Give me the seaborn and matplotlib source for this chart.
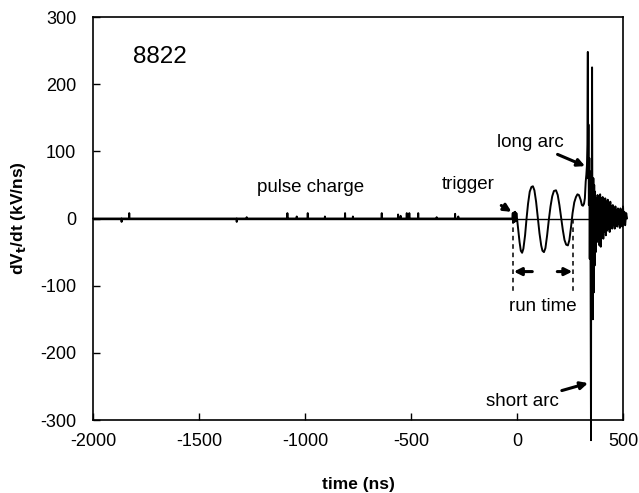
import numpy as np
import pandas as pd
import seaborn as sns
import matplotlib.pyplot as plt

# pulse charge spikes before the trigger (time ns, height kV/ns)
spike_t = [-1865, -1829, -1322, -1275, -1083, -1039, -987, -906, -811, -774,
           -638, -561, -549, -520, -508, -466, -379, -292, -277]
spike_h = [-5, 8, -5, 2, 8, 3, 8, 3, 8, 3,
           8, 6, 4, 8, 8, 8, 2, 7, 3]

# trigger blob
trig_t = [-22, -20, -18, -15, -12, -9, -6, -3, 0]
trig_v = [0, 8, -6, 9, -5, 10, -4, 8, 0]

# run time oscillation
osc_t = [5, 12, 18, 24, 30, 38, 45, 52, 60, 68, 75, 82, 90, 98, 106, 114,
         120, 127, 134, 142, 150, 158, 166, 174, 184, 192, 200, 208, 216,
         224, 232, 240, 247, 255, 262, 270, 278, 285, 292, 300, 306, 311,
         316, 320]
osc_v = [-15, -35, -48, -51, -45, -25, 0, 22, 40, 47, 48, 42, 25, 2, -22, -40,
         -48, -50, -44, -25, -2, 18, 33, 41, 42, 35, 20, 2, -17,
         -32, -39, -40, -32, -12, 8, 24, 32, 36, 35, 28, 20, 19,
         22, 30]

# arcs and ringing
arc_t = [324, 327, 330, 332, 334, 335, 337, 339, 341, 343, 345, 347, 349, 350,
         352, 354, 356, 358, 360, 362, 364, 366, 368, 371, 374, 377, 380, 383,
         386, 389, 392, 395, 398, 401, 404, 407, 410, 413, 416, 419, 422, 425,
         428, 431, 434, 437, 440, 443, 446, 449, 452, 455, 458, 461, 464, 467,
         470, 473, 476, 479, 482, 485, 488, 491, 494, 497, 500, 503, 506, 510,
         515, 519]
arc_v = [55, 65, 80, 110, 248, 60, 140, 20, 90, -60, 70, -80, -330, 50,
         -100, 225, -90, -150, 60, -110, 50, -70, 40, -50, 30, -35, 35, -30,
         30, -40, 36, -42, 30, -25, 32, -30, 28, -20, 30, -25, 25, -18,
         28, -15, 20, -20, 25, -12, 18, -15, 20, -10, 15, -15, 18, -10,
         12, -12, 15, -8, 12, -14, 15, -10, 12, -12, 18, -8, 10, -10,
         8, 0]

# build the full trace: flat baseline with narrow spikes, then the wave
t_list, v_list = [-2000], [0]
for t, h in zip(spike_t, spike_h):
    t_list += [t - 1, t, t + 1]
    v_list += [0, h, 0]
t_list += trig_t + osc_t + arc_t
v_list += trig_v + osc_v + arc_v
df = pd.DataFrame({'time': t_list, 'dvdt': v_list})

sns.set_theme(style='ticks')
plt.rcParams['font.family'] = ['Liberation Sans', 'DejaVu Sans']
plt.rcParams['axes.unicode_minus'] = False
plt.rcParams['text.color'] = 'black'
plt.rcParams['axes.labelcolor'] = 'black'

fig = plt.figure(figsize=(6.39, 4.93), dpi=100)
ax = fig.add_axes([0.1455, 0.148, 0.8295, 0.8175])

ax.axhline(0, color='black', lw=1.0, zorder=1)
sns.lineplot(data=df, x='time', y='dvdt', estimator=None, sort=False,
             color='black', lw=1.4, ax=ax, clip_on=False)

ax.set_xlim(-2000, 500)
ax.set_ylim(-300, 300)
ax.set_xticks([-2000, -1500, -1000, -500, 0, 500])
ax.set_yticks([-300, -200, -100, 0, 100, 200, 300])
ax.tick_params(direction='in', length=5, width=1, labelsize=13, colors='black')
ax.tick_params(axis='y', pad=12)
ax.tick_params(axis='x', pad=9)
for s in ax.spines.values():
    s.set_visible(True)
    s.set_color('black')
    s.set_linewidth(1.2)

ax.set_xlabel('time (ns)', fontsize=12.5, fontweight='bold', labelpad=20)
ax.set_ylabel('dV$_\\mathbf{t}$/dt (kV/ns)', fontsize=12.5, fontweight='bold', labelpad=9)

# run time markers
for xd in [-18, 264]:
    ax.plot([xd, xd], [0, -110], color='black', lw=1.1, ls=(0, (3, 2.5)))
arr = dict(arrowstyle='-|>', color='black', lw=2.2, mutation_scale=11,
           shrinkA=0, shrinkB=0)
ax.annotate('', xy=(-15, -79), xytext=(72, -79), arrowprops=arr)
ax.annotate('', xy=(261, -79), xytext=(190, -79), arrowprops=arr)

ax.text(-1684, 240, '8822', fontsize=17.5, ha='center', va='center')
ax.text(-976, 46, 'pulse charge', fontsize=13.5, ha='center', va='center')
ax.text(122, -131, 'run time', fontsize=13.5, ha='center', va='center')
ax.annotate('trigger', xy=(-26, 10), xytext=(-231, 50), fontsize=13.5,
            ha='center', va='center', arrowprops=dict(arr, shrinkA=12))
ax.annotate('long arc', xy=(321, 78), xytext=(61, 113), fontsize=13.5,
            ha='center', va='center', arrowprops=dict(arr, shrinkA=44))
ax.annotate('short arc', xy=(335, -245), xytext=(24, -273), fontsize=13.5,
            ha='center', va='center', arrowprops=dict(arr, shrinkA=48))

fig.savefig('out.png', dpi=100)
